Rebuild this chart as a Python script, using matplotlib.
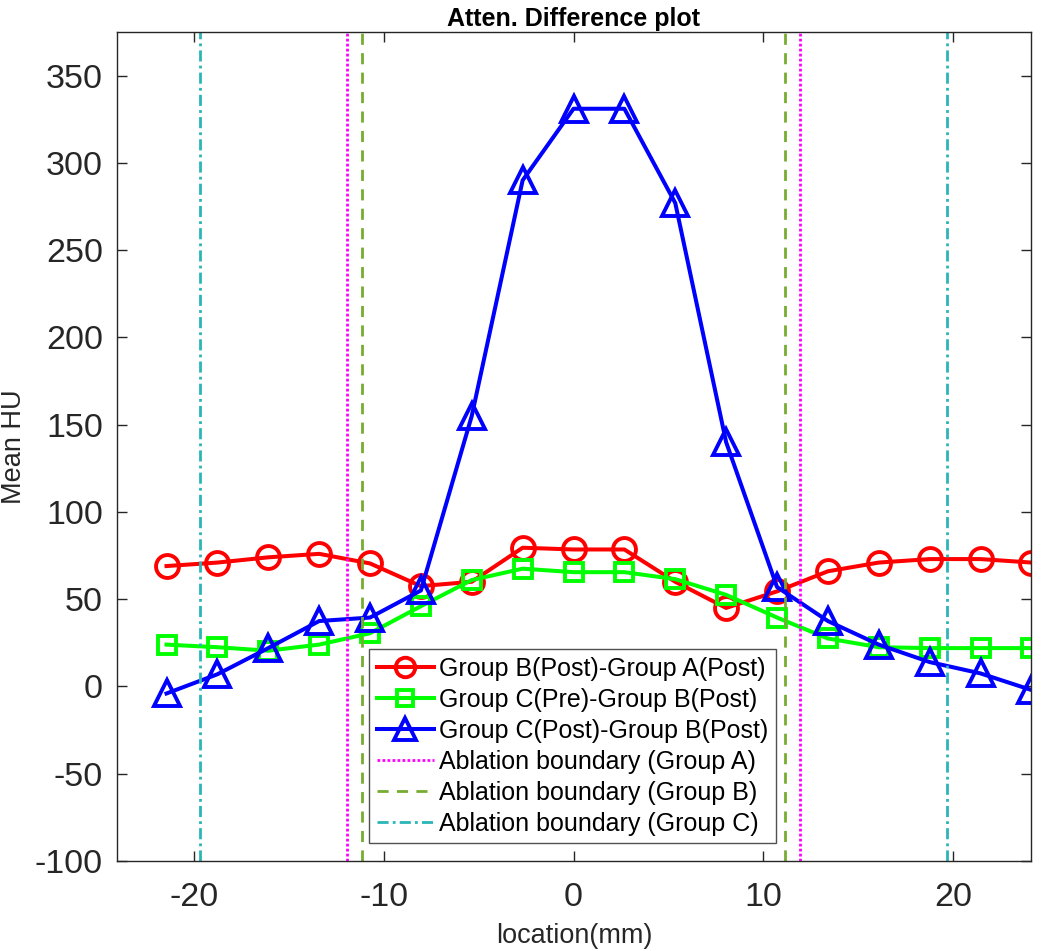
import matplotlib
matplotlib.use("Agg")
import matplotlib.pyplot as plt
import numpy as np

plt.rcParams['font.family'] = ['Liberation Sans', 'DejaVu Sans']
plt.rcParams['axes.unicode_minus'] = False

location = [-21.44, -18.76, -16.08, -13.40, -10.72, -8.04, -5.36, -2.68, 0.0,
            2.68, 5.36, 8.04, 10.72, 13.40, 16.08, 18.76, 21.44, 24.12]
b_post_a_post = [69, 71, 74, 76, 70.5, 57.5, 60, 79.5, 78.5, 78.5, 60, 45, 54.5, 66, 71, 73, 73, 71]
c_pre_b_post = [24, 22.5, 20.5, 24, 30.5, 46, 61, 67.5, 65.5, 65.5, 61.5, 52.5, 39.5, 27.5, 22.5, 22, 22, 22]
c_post_b_post = [-4, 7, 22, 37.5, 39.5, 55, 155, 290, 331, 331, 277, 140, 57, 37.5, 24, 14, 7.5, -2]

boundary_a = [-11.95, 11.95]
boundary_b = [-11.15, 11.15]
boundary_c = [-19.7, 19.65]

series_labels = ['Group B(Post)-Group A(Post)', 'Group C(Pre)-Group B(Post)',
                 'Group C(Post)-Group B(Post)', 'Ablation boundary (Group A)',
                 'Ablation boundary (Group B)', 'Ablation boundary (Group C)']

xticks = [-20, -10, 0, 10, 20]
yticks = [-100, -50, 0, 50, 100, 150, 200, 250, 300, 350]

fig = plt.figure(figsize=(10.5, 9.51), dpi=100)
ax = fig.add_axes([0.1114, 0.0946, 0.8705, 0.8718])

lw = 2.9
mew = 2.8
h1, = ax.plot(location, b_post_a_post, '-o', color='#ff0000', lw=lw, ms=16.5, mew=mew,
              mfc='none', label=series_labels[0])
h2, = ax.plot(location, c_pre_b_post, '-s', color='#00ff00', lw=lw, ms=13, mew=mew,
              mfc='none', label=series_labels[1])
h3, = ax.plot(location, c_post_b_post, '-^', color='#0000ff', lw=lw, ms=19, mew=mew,
              mfc='none', label=series_labels[2])

va = [ax.axvline(x, color='#ff00ff', ls=(0, (1, 0.8)), lw=2.0) for x in boundary_a]
vb = [ax.axvline(x, color='#77ac30', ls=(0, (4, 3)), lw=2.0) for x in boundary_b]
vc = [ax.axvline(x, color='#2bb5b8', ls=(0, (4, 1.5, 1, 1.5)), lw=2.0) for x in boundary_c]
va[0].set_label(series_labels[3])
vb[0].set_label(series_labels[4])
vc[0].set_label(series_labels[5])

ax.set_xlim(-24.05, 24.1)
ax.set_ylim(-100, 375)
ax.set_xticks(xticks)
ax.set_yticks(yticks)
dark = '#262626'
ax.tick_params(direction='in', length=7, width=1, top=True, right=True,
               labelsize=24.5, colors=dark)
ax.tick_params(axis='x', pad=15)
ax.tick_params(axis='y', pad=10)
for s in ax.spines.values():
    s.set_color(dark)
    s.set_linewidth(1)

ax.set_xlabel('location(mm)', fontsize=19.5, color=dark, labelpad=7)
ax.set_ylabel('Mean HU', fontsize=19.5, color=dark, labelpad=6)
ax.set_title('Atten. Difference plot', fontsize=18, fontweight='bold', color='black', pad=4)

leg = ax.legend(handles=[h1, h2, h3, va[0], vb[0], vc[0]], loc='lower center',
                bbox_to_anchor=(0.4985, 0.0217), borderaxespad=0, fontsize=18,
                frameon=True, fancybox=False, edgecolor=dark, handlelength=2.3,
                handletextpad=0.2, labelspacing=0.28, borderpad=0.3, markerscale=0.85)
leg.get_frame().set_linewidth(1)
for t in leg.get_texts():
    t.set_color('black')

fig.savefig('out.png', dpi=100)
